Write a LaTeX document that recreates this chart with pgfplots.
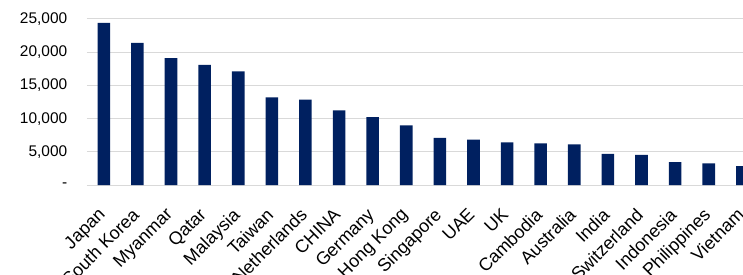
\documentclass[border=0pt]{standalone}
\usepackage{pgfplots}
\pgfplotsset{compat=1.18}
\usepackage{fontspec}
\setmainfont{Liberation Sans}
\definecolor{navy}{RGB}{0,32,96}
\definecolor{gridgray}{RGB}{217,217,217}
\begin{document}
\begin{tikzpicture}
\begin{axis}[
  scale only axis,
  width=656bp, height=166bp,
  xmin=-0.5, xmax=19.02,
  ymin=0, ymax=25000,
  scaled y ticks=false,
  axis lines=left,
  y axis line style={draw=none},
  x axis line style={draw=gridgray, line width=1bp, -},
  ymajorgrids,
  grid style={draw=gridgray, line width=1bp},
  ytick={0,5000,10000,15000,20000,25000},
  yticklabels={{-\hspace{9bp}},{5,000},{10,000},{15,000},{20,000},{25,000}},
  ytick style={draw=none},
  yticklabel style={font=\fontsize{15.5}{17}\selectfont, xshift=-12bp},
  xtick={0,...,19},
  xticklabels={Japan,South Korea,Myanmar,Qatar,Malaysia,Taiwan,Netherlands,CHINA,Germany,Hong Kong,Singapore,UAE,UK,Cambodia,Australia,India,Switzerland,Indonesia,Philippines,Vietnam},
  xtick style={draw=none},
  minor xtick={-0.5,0.5,...,19.5},
  minor tick length=5bp,
  tick align=outside,
  minor tick style={draw=gridgray, line width=1bp},
  xticklabel style={font=\fontsize{18}{20}\selectfont, xshift=-6.5bp, yshift=-16bp, rotate=45, anchor=north east, inner sep=1bp},
  ybar, bar width=12.6bp,
  clip=true,
]
\addplot[fill=navy, draw=none] coordinates {
(0,24400) (1,21400) (2,19100) (3,18100) (4,17100) (5,13200) (6,12850) (7,11250) (8,10240) (9,8990)
(10,7080) (11,6830) (12,6430) (13,6280) (14,6130) (15,4670) (16,4520) (17,3460) (18,3260) (19,2860)
};
\coordinate (SW) at (rel axis cs:0,0);
\coordinate (NE) at (rel axis cs:1,1);
\end{axis}
\pgfresetboundingbox
\path ([xshift=-87bp,yshift=-90bp]SW) rectangle ([yshift=19bp]NE);
\end{tikzpicture}
\end{document}
